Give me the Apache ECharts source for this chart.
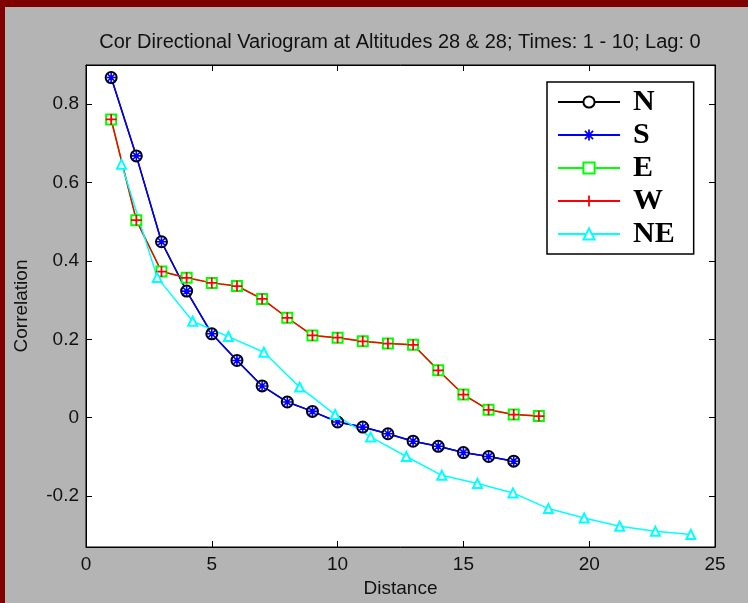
<!DOCTYPE html>
<html>
<head>
<meta charset="utf-8">
<script src="https://cdn.jsdelivr.net/npm/echarts@6/dist/echarts.min.js"></script>
<style>
  html, body { margin: 0; padding: 0; }
  #chart { width: 748px; height: 603px; }
</style>
</head>
<body>
<div id="chart"></div>
<script>
// Directional correlation values
const distNS = [1, 2, 3, 4, 5, 6, 7, 8, 9, 10, 11, 12, 13, 14, 15, 16, 17];
const valN = [0.868, 0.668, 0.449, 0.323, 0.214, 0.146, 0.081, 0.040, 0.016, -0.011, -0.024, -0.041, -0.060, -0.073, -0.089, -0.099, -0.111];
const valS = [0.868, 0.668, 0.449, 0.323, 0.214, 0.146, 0.081, 0.040, 0.016, -0.011, -0.024, -0.041, -0.060, -0.073, -0.089, -0.099, -0.111];

const distEW = [1, 2, 3, 4, 5, 6, 7, 8, 9, 10, 11, 12, 13, 14, 15, 16, 17, 18];
const valE = [0.761, 0.504, 0.373, 0.357, 0.344, 0.336, 0.303, 0.255, 0.210, 0.204, 0.195, 0.189, 0.186, 0.121, 0.059, 0.020, 0.008, 0.004];
const valW = [0.761, 0.504, 0.373, 0.357, 0.344, 0.336, 0.303, 0.255, 0.210, 0.204, 0.195, 0.189, 0.186, 0.121, 0.059, 0.020, 0.008, 0.004];

const distNE = [1.41, 2.83, 4.24, 5.66, 7.07, 8.49, 9.90, 11.31, 12.73, 14.14, 15.56, 16.97, 18.38, 19.80, 21.21, 22.63, 24.04];
const valNE = [0.647, 0.358, 0.246, 0.207, 0.167, 0.078, 0.008, -0.049, -0.099, -0.147, -0.168, -0.192, -0.232, -0.256, -0.277, -0.290, -0.298];

const yTicks = [-0.2, 0, 0.2, 0.4, 0.6, 0.8];
const titleText = 'Cor Directional Variogram at Altitudes 28 & 28; Times: 1 - 10; Lag: 0';

const zip = (xs, ys) => xs.map((x, i) => [x, ys[i]]);

// plus and asterisk markers (filled outlines, matlab style)
const plusPath = 'path://M4.2,0 H5.8 V4.2 H10 V5.8 H5.8 V10 H4.2 V5.8 H0 V4.2 H4.2 Z';
const starPath = 'path://M4.2,0 H5.8 V4.2 H10 V5.8 H5.8 V10 H4.2 V5.8 H0 V4.2 H4.2 Z' +
    'M1.9,0.8 L5,3.9 L8.1,0.8 L9.2,1.9 L6.1,5 L9.2,8.1 L8.1,9.2 L5,6.1 L1.9,9.2 L0.8,8.1 L3.9,5 L0.8,1.9 Z';

const axisFont = { fontFamily: 'Liberation Sans', fontSize: 19, color: '#111' };

function lineSeries(name, data, color, symbol, size, border) {
    return {
        name: name,
        type: 'line',
        data: data,
        symbol: symbol,
        symbolSize: size,
        showSymbol: true,
        lineStyle: { color: color, width: 1.5 },
        itemStyle: { color: color, borderColor: color, borderWidth: border },
        emphasis: { disabled: true }
    };
}

function boxAxis(extra) {
    return Object.assign({
        type: 'value',
        axisLine: { show: true, onZero: false, lineStyle: { color: '#000' } },
        axisTick: { show: true, inside: true, length: 6, lineStyle: { color: '#000' } },
        splitLine: { show: false }
    }, extra);
}

const chart = echarts.init(document.getElementById('chart'));

const option = {
    animation: false,
    backgroundColor: '#b4b4b4',
    graphic: [
        { type: 'rect', shape: { x: 0, y: 0, width: 748, height: 7 }, style: { fill: '#800000' }, z: 100 },
        { type: 'rect', shape: { x: 0, y: 0, width: 5, height: 603 }, style: { fill: '#800000' }, z: 100 },
        {
            type: 'text', x: 400, y: 42,
            style: {
                text: titleText, fill: '#111',
                font: '20px "Liberation Sans"',
                textAlign: 'center', textVerticalAlign: 'middle'
            }
        }
    ],
    grid: { left: 86, right: 33, top: 65, bottom: 56, show: true, backgroundColor: '#fff', borderColor: '#000', borderWidth: 1 },
    legend: {
        orient: 'vertical',
        left: 547,
        top: 82,
        itemWidth: 62,
        itemHeight: 14,
        itemGap: 3,
        padding: [5, 19, 5, 10],
        backgroundColor: '#fff',
        borderColor: '#000',
        borderWidth: 1.5,
        borderRadius: 0,
        textStyle: {
            fontFamily: 'Liberation Serif', fontWeight: 'bold', fontSize: 30,
            color: '#000', lineHeight: 30, padding: [0, 0, 0, 8]
        },
        data: ['N', 'S', 'E', 'W', 'NE']
    },
    xAxis: [
        boxAxis({
            min: 0, max: 25, interval: 5,
            name: 'Distance', nameLocation: 'middle', nameGap: 31,
            nameTextStyle: axisFont,
            axisLabel: Object.assign({ margin: 8 }, axisFont)
        }),
        boxAxis({
            min: 0, max: 25, interval: 5, position: 'top',
            axisLabel: { show: false }
        })
    ],
    yAxis: [
        boxAxis({
            min: -0.33, max: 0.9,
            name: 'Correlation', nameLocation: 'middle', nameGap: 55,
            nameTextStyle: axisFont,
            axisTick: { show: true, inside: true, length: 6, lineStyle: { color: '#000' }, customValues: yTicks },
            axisLabel: Object.assign({ margin: 7, customValues: yTicks }, axisFont)
        }),
        boxAxis({
            min: -0.33, max: 0.9, position: 'right',
            axisTick: { show: true, inside: true, length: 6, lineStyle: { color: '#000' }, customValues: yTicks },
            axisLabel: { show: false }
        })
    ],
    series: [
        lineSeries('N', zip(distNS, valN), '#000000', 'emptyCircle', 11, 1),
        lineSeries('S', zip(distNS, valS), '#0000ff', starPath, 10, 0),
        lineSeries('E', zip(distEW, valE), '#00ff00', 'emptyRect', 10, 1.3),
        lineSeries('W', zip(distEW, valW), '#ff0000', plusPath, 11, 0),
        lineSeries('NE', zip(distNE, valNE), '#00ffff', 'emptyTriangle', 9, 1.3)
    ]
};

chart.setOption(option);
</script>
</body>
</html>
